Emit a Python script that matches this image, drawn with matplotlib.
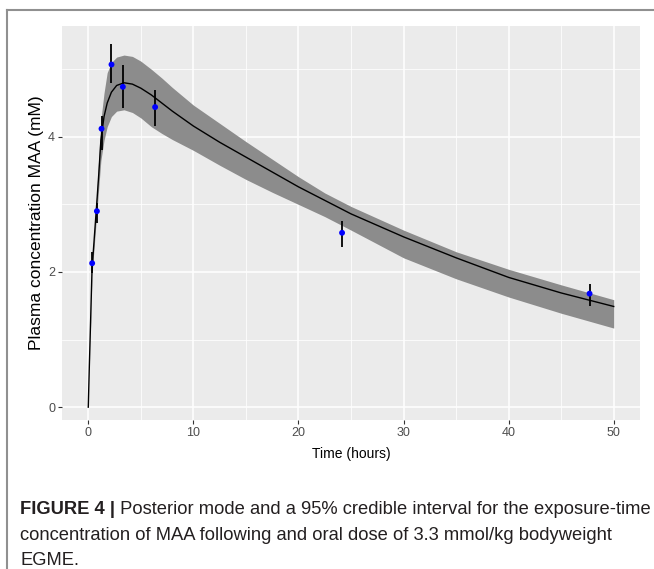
import matplotlib
matplotlib.use("Agg")
import matplotlib.pyplot as plt
from matplotlib.lines import Line2D
from matplotlib.ticker import MultipleLocator

# --- OBSERVED DATA (mean and error bar ends) ---
obs_time = [0.37, 0.82, 1.26, 2.21, 3.29, 6.36, 24.15, 47.7]
obs_conc = [2.13, 2.90, 4.12, 5.07, 4.74, 4.44, 2.58, 1.68]
obs_low = [1.98, 2.73, 3.81, 4.80, 4.43, 4.16, 2.37, 1.50]
obs_high = [2.30, 3.02, 4.31, 5.37, 5.07, 4.69, 2.75, 1.82]

# --- MODEL FIT: posterior mode and 95% credible band ---
fit_time = [0, 0.1, 0.2, 0.35, 0.5, 0.8, 1.0, 1.2, 1.5, 1.8, 2.2, 2.7, 3.4, 4.2, 5,
            6, 7, 8, 10, 12.5, 15, 17.5, 20, 22.5, 25, 30, 35, 40, 45, 50]
fit_mode = [0, 0.6, 1.15, 2.0, 2.35, 3.0, 3.45, 3.95, 4.3, 4.5, 4.66, 4.76, 4.80, 4.78, 4.72,
            4.62, 4.50, 4.38, 4.16, 3.92, 3.70, 3.48, 3.26, 3.06, 2.86, 2.52, 2.21, 1.92, 1.69, 1.49]
fit_upper = [0, 0.6, 1.2, 2.05, 2.45, 3.15, 3.7, 4.25, 4.65, 4.95, 5.1, 5.18, 5.21, 5.19, 5.12,
             5.0, 4.87, 4.73, 4.47, 4.2, 3.93, 3.67, 3.41, 3.17, 2.97, 2.62, 2.30, 2.04, 1.81, 1.59]
fit_lower = [0, 0.6, 1.1, 1.95, 2.25, 2.85, 3.25, 3.65, 3.95, 4.15, 4.3, 4.38, 4.40, 4.36, 4.28,
             4.15, 4.05, 3.96, 3.80, 3.58, 3.37, 3.18, 3.0, 2.82, 2.62, 2.21, 1.9, 1.63, 1.39, 1.17]

x_ticks = [0, 10, 20, 30, 40, 50]
y_ticks = [0, 2, 4]

caption_bold = "FIGURE 4 |"
caption_rest = [" Posterior mode and a 95% credible interval for the exposure-time",
                "concentration of MAA following and oral dose of 3.3 mmol/kg bodyweight",
                "EGME."]

W, H = 654, 569
fig = plt.figure(figsize=(W / 100, H / 100), dpi=100)
sans = ["Liberation Sans", "DejaVu Sans"]

# panel position (pixels from reference)
left, right, top, bottom = 62, 640, 26, 420
ax = fig.add_axes([left / W, 1 - bottom / H, (right - left) / W, (bottom - top) / H])

# ggplot-ish theme
ax.set_facecolor("#EBEBEB")
for s in ax.spines.values():
    s.set_visible(False)
ax.xaxis.set_major_locator(MultipleLocator(10))
ax.xaxis.set_minor_locator(MultipleLocator(5))
ax.yaxis.set_major_locator(MultipleLocator(2))
ax.yaxis.set_minor_locator(MultipleLocator(1))
ax.grid(True, which="major", color="white", linewidth=1.1)
ax.grid(True, which="minor", color="white", linewidth=0.55)
ax.set_axisbelow(True)
ax.tick_params(which="minor", length=0)
ax.tick_params(which="major", length=3, width=0.8, color="#333333",
               labelcolor="#4D4D4D", labelsize=9, pad=2)

# credible band + mode
ax.fill_between(fit_time, fit_lower, fit_upper, color="#8C8C8C", linewidth=0, zorder=2)
ax.plot(fit_time, fit_mode, color="black", linewidth=1.0, zorder=3)

# observations with error bars
ax.vlines(obs_time, obs_low, obs_high, color="black", linewidth=1.3, zorder=4)
ax.scatter(obs_time, obs_conc, s=18, color="#0000FF", edgecolors="none", zorder=5)

ax.set_xlim(-2.5, 52.5)
ax.set_ylim(-0.19, 5.64)
ax.set_xticks(x_ticks)
ax.set_yticks(y_ticks)

ax.set_xlabel("Time (hours)", fontsize=10, labelpad=6, family=sans)
ax.set_ylabel("Plasma concentration MAA (mM)", fontsize=12.5, labelpad=3, family=sans)
for lab in ax.get_xticklabels() + ax.get_yticklabels():
    lab.set_family(sans)

# outer frame (only left and top edges visible)
fig.add_artist(Line2D([7 / W, 7 / W], [0, 1 - 10 / H], color="#909090", linewidth=1.5))
fig.add_artist(Line2D([7 / W, 1], [1 - 10 / H, 1 - 10 / H], color="#909090", linewidth=1.5))

# caption (baselines in pixels from the top)
cap_size = 13.2
t0 = fig.text(20 / W, 1 - 514 / H, caption_bold, fontsize=cap_size, fontweight="bold",
              family=sans, color="#231F20", va="baseline")
fig.canvas.draw()
bb = t0.get_window_extent()
fig.text(bb.x1 / W, 1 - 514 / H, caption_rest[0], fontsize=cap_size, family=sans,
         color="#231F20", va="baseline")
fig.text(20 / W, 1 - 540 / H, caption_rest[1], fontsize=cap_size, family=sans,
         color="#231F20", va="baseline")
fig.text(20 / W, 1 - 565 / H, caption_rest[2], fontsize=cap_size, family=sans,
         color="#231F20", va="baseline")

fig.savefig("out.png", dpi=100)
